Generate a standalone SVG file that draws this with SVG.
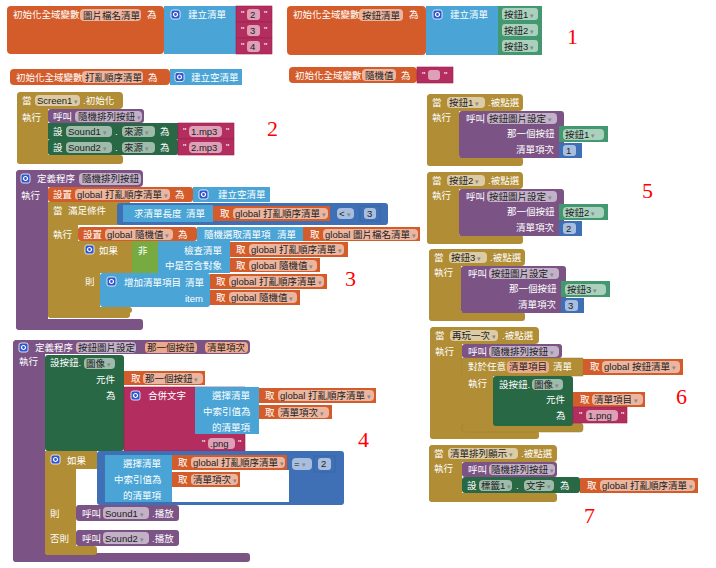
<svg xmlns="http://www.w3.org/2000/svg" xmlns:xlink="http://www.w3.org/1999/xlink" width="716" height="568" viewBox="0 0 716 568">
<style>
text{font-family:"Liberation Sans","Noto Sans CJK TC","Noto Sans CJK SC",sans-serif;font-size:9.5px}
.w{fill:#fff}
.k{fill:#222}
.a{fill:#888;font-size:7px}
.n{font-family:"Liberation Serif","DejaVu Serif",serif;font-size:22px;fill:#f00}
.o{fill:#D35C2A}
.lb{fill:#4AA5D6}
.mg{fill:#B32D5E;stroke:#9c2450;stroke-width:.6}
.gc{fill:#43986F}
.dg{fill:#286845}
.gd{fill:#B18D36}
.pp{fill:#7B5385}
.mb{fill:#3F6FB5}
.lg{fill:#77AB41}
.f{fill:#fff;fill-opacity:.55}
.fo{fill:#EBA98D}
</style>
<defs>
<g id="gear"><rect x="0" y="0" width="9" height="9" rx="2" fill="#2F55CF" stroke="#fff" stroke-width=".8"/><circle cx="4.5" cy="4.5" r="2" fill="none" stroke="#fff" stroke-width="1.2"/></g>
</defs>
<rect width="716" height="568" fill="#fff"/>

<g id="b1a">
<rect class="o" x="7" y="6" width="157" height="48" rx="4"/>
<text class="w" x="13" y="18">初始化全域變數</text>
<rect class="f" x="80" y="9" width="61" height="12" rx="4"/><text class="k" x="83" y="19">圖片檔名清單</text>
<text class="w" x="147" y="18">為</text>
<rect class="lb" x="164" y="6" width="72" height="48"/>
<use href="#gear" x="171" y="10"/>
<text class="w" x="188" y="18">建立清單</text>
<rect class="mg" x="236" y="6" width="36" height="16"/>
<rect class="mg" x="236" y="22" width="36" height="16"/>
<rect class="mg" x="236" y="38" width="36" height="16"/>
<text class="w" x="241" y="17">"</text><rect class="f" x="247" y="9" width="13" height="11" rx="3"/><text class="k" x="250" y="18">2</text><text class="w" x="264" y="17">"</text>
<text class="w" x="241" y="33">"</text><rect class="f" x="247" y="25" width="13" height="11" rx="3"/><text class="k" x="250" y="34">3</text><text class="w" x="264" y="33">"</text>
<text class="w" x="241" y="49">"</text><rect class="f" x="247" y="41" width="13" height="11" rx="3"/><text class="k" x="250" y="50">4</text><text class="w" x="264" y="49">"</text>
</g>

<g id="b1b">
<rect class="o" x="287" y="6" width="139" height="49" rx="4"/>
<text class="w" x="293" y="18">初始化全域變數</text>
<rect class="f" x="359" y="9" width="44" height="12" rx="4"/><text class="k" x="362" y="19">按鈕清單</text>
<text class="w" x="409" y="18">為</text>
<rect class="lb" x="426" y="6" width="72" height="49"/>
<use href="#gear" x="433" y="10"/>
<text class="w" x="450" y="18">建立清單</text>
<rect class="gc" x="498" y="6" width="44" height="16"/>
<rect class="gc" x="498" y="22" width="44" height="16"/>
<rect class="gc" x="498" y="38" width="44" height="17"/>
<rect class="f" x="502" y="8" width="36" height="12" rx="3"/><text class="k" x="504" y="18">按鈕1<tspan class="a"> ▾</tspan></text>
<rect class="f" x="502" y="24" width="36" height="12" rx="3"/><text class="k" x="504" y="34">按鈕2<tspan class="a"> ▾</tspan></text>
<rect class="f" x="502" y="40" width="36" height="12" rx="3"/><text class="k" x="504" y="50">按鈕3<tspan class="a"> ▾</tspan></text>
</g>

<g id="b1c">
<rect class="o" x="10" y="69" width="160" height="16" rx="4"/>
<text class="w" x="16" y="81">初始化全域變數</text>
<rect class="f" x="82" y="71" width="61" height="12" rx="4"/><text class="k" x="85" y="81">打亂順序清單</text>
<text class="w" x="148" y="81">為</text>
<rect class="lb" x="170" y="69" width="72" height="16"/>
<use href="#gear" x="175" y="72.5"/>
<text class="w" x="191" y="81">建立空清單</text>
</g>

<g id="b1d">
<rect class="o" x="289" y="67" width="128" height="16" rx="4"/>
<text class="w" x="295" y="79">初始化全域變數</text>
<rect class="f" x="362" y="69" width="34" height="12" rx="4"/><text class="k" x="365" y="79">隨機值</text>
<text class="w" x="401" y="79">為</text>
<rect class="mg" x="417" y="67" width="36" height="16"/>
<text class="w" x="422" y="78">"</text><rect class="f" x="428" y="70" width="12" height="10" rx="3"/><text class="w" x="444" y="78">"</text>
</g>

<g id="b2">
<rect class="gd" x="17" y="92" width="106" height="17" rx="4"/>
<rect class="gd" x="17" y="92" width="31" height="72" rx="4"/>
<rect class="gd" x="17" y="155" width="106" height="9" rx="3"/>
<text class="w" x="22" y="104">當</text>
<rect class="f" x="35" y="95" width="45" height="11" rx="4"/><text class="k" x="37" y="104">Screen1<tspan class="a"> ▾</tspan></text>
<text class="w" x="83" y="104">.初始化</text>
<text class="w" x="22" y="121">執行</text>
<rect class="pp" x="48" y="109" width="96" height="14" rx="3"/>
<text class="w" x="53" y="120">呼叫</text>
<rect class="f" x="75" y="111" width="67" height="11" rx="4"/><text class="k" x="78" y="120">隨機排列按鈕<tspan class="a"> ▾</tspan></text>
<rect class="dg" x="48" y="123" width="130" height="16"/>
<text class="w" x="53" y="135">設</text>
<rect class="f" x="66" y="126" width="46" height="11" rx="4"/><text class="k" x="68" y="135">Sound1<tspan class="a"> ▾</tspan></text>
<text class="w" x="115" y="135">.</text>
<rect class="f" x="122" y="126" width="33" height="11" rx="4"/><text class="k" x="124" y="135">來源<tspan class="a"> ▾</tspan></text>
<text class="w" x="160" y="135">為</text>
<rect class="mg" x="178" y="123" width="56" height="16"/>
<text class="w" x="183" y="134">"</text><rect class="f" x="189" y="126" width="33" height="11" rx="4"/><text class="k" x="191" y="135">1.mp3</text><text class="w" x="226" y="134">"</text>
<rect class="dg" x="48" y="139" width="130" height="16" rx="2"/>
<text class="w" x="53" y="151">設</text>
<rect class="f" x="66" y="142" width="46" height="11" rx="4"/><text class="k" x="68" y="151">Sound2<tspan class="a"> ▾</tspan></text>
<text class="w" x="115" y="151">.</text>
<rect class="f" x="122" y="142" width="33" height="11" rx="4"/><text class="k" x="124" y="151">來源<tspan class="a"> ▾</tspan></text>
<text class="w" x="160" y="151">為</text>
<rect class="mg" x="178" y="139" width="56" height="16"/>
<text class="w" x="183" y="150">"</text><rect class="f" x="189" y="142" width="33" height="11" rx="4"/><text class="k" x="191" y="151">2.mp3</text><text class="w" x="226" y="150">"</text>
</g>

<g id="b3">
<rect class="pp" x="16" y="170" width="127" height="17" rx="4"/>
<rect class="pp" x="16" y="170" width="32" height="160" rx="4"/>
<rect class="pp" x="16" y="319" width="127" height="11" rx="3"/>
<use href="#gear" x="21" y="174"/>
<text class="w" x="37" y="182">定義程序</text>
<rect class="f" x="79" y="173" width="62" height="12" rx="4"/><text class="k" x="82" y="182">隨機排列按鈕</text>
<text class="w" x="21" y="199">執行</text>
<rect class="o" x="48" y="187" width="145" height="15" rx="3"/>
<text class="w" x="53" y="198">設置</text>
<rect class="f" x="75" y="189" width="95" height="11" rx="4"/><text class="k" x="77" y="198">global 打亂順序清單<tspan class="a"> ▾</tspan></text>
<text class="w" x="175" y="198">為</text>
<rect class="lb" x="193" y="187" width="77" height="15"/>
<use href="#gear" x="199" y="190"/>
<text class="w" x="218" y="198">建立空清單</text>

<rect class="gd" x="48" y="202" width="82" height="23"/>
<rect class="gd" x="48" y="202" width="30" height="116" rx="3"/>
<rect class="gd" x="48" y="311" width="82" height="7" rx="3"/>
<text class="w" x="53" y="214">當</text><text class="w" x="68" y="214">滿足條件</text>
<text class="w" x="53" y="238">執行</text>
<rect class="mb" x="117" y="203" width="271" height="22" rx="3"/>
<rect class="lb" x="123" y="205" width="90" height="17"/>
<text class="w" x="134" y="217">求清單長度</text><text class="w" x="186" y="217">清單</text>
<rect class="o" x="213" y="206" width="117" height="15"/>
<text class="w" x="220" y="217">取</text>
<rect class="f" x="233" y="208" width="95" height="11" rx="4"/><text class="k" x="235" y="217">global 打亂順序清單<tspan class="a"> ▾</tspan></text>
<rect class="f" x="337" y="208" width="17" height="11" rx="4"/><text class="k" x="339" y="217">&lt;<tspan class="a"> ▾</tspan></text>
<rect class="mb" x="360" y="206" width="20" height="15" stroke="#35609e" stroke-width=".6"/>
<rect class="f" x="364" y="208" width="12" height="11" rx="3"/><text class="k" x="367" y="217">3</text>

<rect class="o" x="78" y="227" width="119" height="14" rx="3"/>
<text class="w" x="83" y="238">設置</text>
<rect class="f" x="105" y="229" width="68" height="11" rx="4"/><text class="k" x="107" y="238">global 隨機值<tspan class="a"> ▾</tspan></text>
<text class="w" x="178" y="238">為</text>
<rect class="lb" x="197" y="227" width="106" height="14"/>
<text class="w" x="204" y="238">隨機選取清單項</text><text class="w" x="277" y="238">清單</text>
<rect class="o" x="303" y="227" width="117" height="14"/>
<text class="w" x="310" y="238">取</text>
<rect class="f" x="323" y="229" width="95" height="11" rx="4"/><text class="k" x="325" y="238">global 圖片檔名清單<tspan class="a"> ▾</tspan></text>

<rect class="gd" x="78" y="241" width="54" height="32"/>
<rect class="gd" x="78" y="241" width="22" height="72" rx="3"/>
<rect class="gd" x="78" y="307" width="54" height="6" rx="3"/>
<use href="#gear" x="85" y="245"/>
<text class="w" x="99" y="254">如果</text>
<rect class="lg" x="132" y="241" width="26" height="32"/>
<text class="w" x="138" y="254">非</text>
<rect class="lb" x="158" y="241" width="72" height="32"/>
<text class="w" x="184" y="254">檢查清單</text>
<text class="w" x="165" y="269">中是否含對象</text>
<rect class="o" x="230" y="242" width="118" height="15"/>
<text class="w" x="236" y="253">取</text>
<rect class="f" x="249" y="244" width="95" height="11" rx="4"/><text class="k" x="251" y="253">global 打亂順序清單<tspan class="a"> ▾</tspan></text>
<rect class="o" x="230" y="258" width="90" height="14"/>
<text class="w" x="236" y="269">取</text>
<rect class="f" x="249" y="260" width="68" height="11" rx="4"/><text class="k" x="251" y="269">global 隨機值<tspan class="a"> ▾</tspan></text>
<text class="w" x="85" y="285">則</text>
<rect class="lb" x="100" y="273" width="110" height="34" rx="3"/>
<use href="#gear" x="107" y="277"/>
<text class="w" x="124" y="286">增加清單項目</text><text class="w" x="185" y="286">清單</text>
<text class="w" x="185" y="302">item</text>
<rect class="o" x="210" y="274" width="117" height="15"/>
<text class="w" x="216" y="285">取</text>
<rect class="f" x="229" y="276" width="95" height="11" rx="4"/><text class="k" x="231" y="285">global 打亂順序清單<tspan class="a"> ▾</tspan></text>
<rect class="o" x="210" y="290" width="90" height="15"/>
<text class="w" x="216" y="301">取</text>
<rect class="f" x="229" y="292" width="68" height="11" rx="4"/><text class="k" x="231" y="301">global 隨機值<tspan class="a"> ▾</tspan></text>
</g>

<g id="b4">
<rect class="pp" x="13" y="340" width="237" height="14" rx="4"/>
<rect class="pp" x="13" y="340" width="32" height="222" rx="4"/>
<rect class="pp" x="13" y="553" width="237" height="9" rx="3"/>
<use href="#gear" x="19" y="343"/>
<text class="w" x="35" y="351">定義程序</text>
<rect class="f" x="76" y="342" width="60" height="11" rx="4"/><text class="k" x="78" y="351">按鈕圖片設定</text>
<rect class="fo" x="145" y="342" width="52" height="11" rx="4"/><text class="k" x="147" y="351">那一個按鈕</text>
<rect class="fo" x="205" y="342" width="43" height="11" rx="4"/><text class="k" x="207" y="351">清單項次</text>
<text class="w" x="19" y="365">執行</text>
<rect class="dg" x="45" y="355" width="79" height="96" rx="3"/>
<text class="w" x="50" y="366">設按鈕.</text>
<rect class="f" x="84" y="358" width="31" height="11" rx="4"/><text class="k" x="86" y="367">圖像<tspan class="a"> ▾</tspan></text>
<text class="w" x="96" y="383">元件</text>
<text class="w" x="106" y="399">為</text>
<rect class="o" x="124" y="371" width="81" height="14"/>
<text class="w" x="131" y="382">取</text>
<rect class="f" x="143" y="373" width="60" height="11" rx="4"/><text class="k" x="145" y="382">那一個按鈕<tspan class="a"> ▾</tspan></text>
<rect class="mg" x="124" y="387" width="121" height="64"/>
<use href="#gear" x="131" y="391"/>
<text class="w" x="148" y="399">合併文字</text>
<rect class="lb" x="195" y="387" width="64" height="47"/>
<text class="w" x="212" y="399">選擇清單</text>
<text class="w" x="203" y="415">中索引值為</text>
<text class="w" x="212" y="431">的清單項</text>
<rect class="o" x="259" y="388" width="117" height="15"/>
<text class="w" x="265" y="399">取</text>
<rect class="f" x="278" y="390" width="96" height="11" rx="4"/><text class="k" x="280" y="399">global 打亂順序清單<tspan class="a"> ▾</tspan></text>
<rect class="o" x="259" y="405" width="73" height="14"/>
<text class="w" x="265" y="416">取</text>
<rect class="f" x="278" y="407" width="51" height="11" rx="4"/><text class="k" x="280" y="416">清單項次<tspan class="a"> ▾</tspan></text>
<text class="w" x="202" y="446">"</text>
<rect class="f" x="208" y="438" width="27" height="11" rx="4"/><text class="k" x="210" y="447">.png</text>
<text class="w" x="238" y="446">"</text>

<rect class="gd" x="45" y="451" width="52" height="18"/>
<rect class="gd" x="45" y="451" width="31" height="104" rx="3"/>
<rect class="gd" x="45" y="546" width="52" height="9" rx="3"/>
<use href="#gear" x="51" y="455"/>
<text class="w" x="67" y="464">如果</text>
<rect class="mb" x="97" y="451" width="247" height="54" rx="3"/>
<rect x="172" y="470" width="117" height="32" fill="#fff"/>
<rect class="lb" x="105" y="455" width="67" height="47"/>
<text class="w" x="123" y="467">選擇清單</text>
<text class="w" x="114" y="483">中索引值為</text>
<text class="w" x="123" y="499">的清單項</text>
<rect class="o" x="172" y="455" width="115" height="15"/>
<text class="w" x="178" y="466">取</text>
<rect class="f" x="191" y="457" width="94" height="11" rx="4"/><text class="k" x="193" y="466">global 打亂順序清單<tspan class="a"> ▾</tspan></text>
<rect class="o" x="172" y="472" width="68" height="15"/>
<text class="w" x="178" y="483">取</text>
<rect class="f" x="191" y="474" width="47" height="11" rx="4"/><text class="k" x="193" y="483">清單項次<tspan class="a"> ▾</tspan></text>
<rect class="f" x="292" y="458" width="20" height="12" rx="4"/><text class="k" x="294" y="467">=<tspan class="a"> ▾</tspan></text>
<rect class="mb" x="314" y="456" width="21" height="16" stroke="#35609e" stroke-width=".6"/>
<rect class="f" x="318" y="458" width="13" height="12" rx="3"/><text class="k" x="321" y="467">2</text>
<text class="w" x="50" y="517">則</text>
<rect class="pp" x="76" y="505" width="103" height="16" rx="3"/>
<text class="w" x="82" y="517">呼叫</text>
<rect class="f" x="103" y="507" width="46" height="12" rx="4"/><text class="k" x="105" y="517">Sound1<tspan class="a"> ▾</tspan></text>
<text class="w" x="152" y="517">.播放</text>
<text class="w" x="50" y="542">否則</text>
<rect class="pp" x="76" y="530" width="103" height="16" rx="3"/>
<text class="w" x="82" y="542">呼叫</text>
<rect class="f" x="103" y="532" width="46" height="12" rx="4"/><text class="k" x="105" y="542">Sound2<tspan class="a"> ▾</tspan></text>
<text class="w" x="152" y="542">.播放</text>
</g>

<g id="b5a">
<rect class="gd" x="427" y="94" width="96" height="17" rx="4"/>
<rect class="gd" x="427" y="94" width="32" height="72" rx="4"/>
<rect class="gd" x="427" y="157" width="96" height="9" rx="3"/>
<text class="w" x="432" y="106">當</text>
<rect class="f" x="447" y="97" width="38" height="11" rx="4"/><text class="k" x="449" y="106">按鈕1<tspan class="a"> ▾</tspan></text>
<text class="w" x="488" y="106">.被點選</text>
<text class="w" x="432" y="121">執行</text>
<rect class="pp" x="459" y="111" width="105" height="47" rx="3"/>
<text class="w" x="466" y="122">呼叫</text>
<rect class="f" x="487" y="113" width="70" height="11" rx="4"/><text class="k" x="489" y="122">按鈕圖片設定<tspan class="a"> ▾</tspan></text>
<text class="w" x="507" y="137">那一個按鈕</text>
<text class="w" x="516" y="153">清單項次</text>
<rect class="gc" x="559" y="126" width="49" height="16"/>
<rect class="f" x="563" y="129" width="41" height="11" rx="4"/><text class="k" x="565" y="138">按鈕1<tspan class="a"> ▾</tspan></text>
<rect class="mb" x="559" y="143" width="23" height="15"/>
<rect class="f" x="563" y="145" width="13" height="11" rx="3"/><text class="k" x="566" y="154">1</text>
</g>

<g id="b5b">
<rect class="gd" x="427" y="172" width="96" height="17" rx="4"/>
<rect class="gd" x="427" y="172" width="32" height="72" rx="4"/>
<rect class="gd" x="427" y="235" width="96" height="9" rx="3"/>
<text class="w" x="432" y="184">當</text>
<rect class="f" x="447" y="175" width="38" height="11" rx="4"/><text class="k" x="449" y="184">按鈕2<tspan class="a"> ▾</tspan></text>
<text class="w" x="488" y="184">.被點選</text>
<text class="w" x="432" y="199">執行</text>
<rect class="pp" x="459" y="189" width="105" height="47" rx="3"/>
<text class="w" x="466" y="200">呼叫</text>
<rect class="f" x="487" y="191" width="70" height="11" rx="4"/><text class="k" x="489" y="200">按鈕圖片設定<tspan class="a"> ▾</tspan></text>
<text class="w" x="507" y="215">那一個按鈕</text>
<text class="w" x="516" y="231">清單項次</text>
<rect class="gc" x="559" y="204" width="49" height="16"/>
<rect class="f" x="563" y="207" width="41" height="11" rx="4"/><text class="k" x="565" y="216">按鈕2<tspan class="a"> ▾</tspan></text>
<rect class="mb" x="559" y="221" width="23" height="15"/>
<rect class="f" x="563" y="223" width="13" height="11" rx="3"/><text class="k" x="566" y="232">2</text>
</g>

<g id="b5c">
<rect class="gd" x="429" y="249" width="96" height="17" rx="4"/>
<rect class="gd" x="429" y="249" width="32" height="72" rx="4"/>
<rect class="gd" x="429" y="312" width="96" height="9" rx="3"/>
<text class="w" x="434" y="261">當</text>
<rect class="f" x="449" y="252" width="38" height="11" rx="4"/><text class="k" x="451" y="261">按鈕3<tspan class="a"> ▾</tspan></text>
<text class="w" x="490" y="261">.被點選</text>
<text class="w" x="434" y="276">執行</text>
<rect class="pp" x="461" y="266" width="105" height="47" rx="3"/>
<text class="w" x="468" y="277">呼叫</text>
<rect class="f" x="489" y="268" width="70" height="11" rx="4"/><text class="k" x="491" y="277">按鈕圖片設定<tspan class="a"> ▾</tspan></text>
<text class="w" x="509" y="292">那一個按鈕</text>
<text class="w" x="518" y="308">清單項次</text>
<rect class="gc" x="561" y="281" width="49" height="16"/>
<rect class="f" x="565" y="284" width="41" height="11" rx="4"/><text class="k" x="567" y="293">按鈕3<tspan class="a"> ▾</tspan></text>
<rect class="mb" x="561" y="298" width="23" height="15"/>
<rect class="f" x="565" y="300" width="13" height="11" rx="3"/><text class="k" x="568" y="309">3</text>
</g>

<g id="b6">
<rect class="gd" x="430" y="327" width="109" height="17" rx="4"/>
<rect class="gd" x="430" y="327" width="32" height="112" rx="4"/>
<rect class="gd" x="430" y="431" width="109" height="8" rx="3"/>
<text class="w" x="435" y="339">當</text>
<rect class="f" x="450" y="330" width="48" height="11" rx="4"/><text class="k" x="452" y="339">再玩一次<tspan class="a"> ▾</tspan></text>
<text class="w" x="502" y="339">.被點選</text>
<text class="w" x="435" y="355">執行</text>
<rect class="pp" x="462" y="344" width="100" height="14" rx="3"/>
<text class="w" x="468" y="355">呼叫</text>
<rect class="f" x="489" y="346" width="70" height="11" rx="4"/><text class="k" x="491" y="355">隨機排列按鈕<tspan class="a"> ▾</tspan></text>
<rect class="gd" x="462" y="358" width="121" height="18" stroke="#9c7c2c" stroke-width=".5"/>
<rect class="gd" x="462" y="358" width="31" height="74"/>
<rect class="gd" x="462" y="423" width="121" height="9" rx="3" stroke="#9c7c2c" stroke-width=".5"/>
<rect class="gd" x="462.5" y="375" width="30" height="49"/>
<text class="w" x="468" y="370">對於任意</text>
<rect class="fo" x="507" y="361" width="42" height="12" rx="4"/><text class="k" x="509" y="370">清單項目</text>
<text class="w" x="553" y="370">清單</text>
<rect class="o" x="583" y="359" width="100" height="16"/>
<text class="w" x="590" y="370">取</text>
<rect class="f" x="602" y="361" width="78" height="12" rx="4"/><text class="k" x="604" y="370">global 按鈕清單<tspan class="a"> ▾</tspan></text>
<text class="w" x="468" y="387">執行</text>
<rect class="dg" x="493" y="376" width="80" height="50" rx="3"/>
<text class="w" x="499" y="388">設按鈕.</text>
<rect class="f" x="532" y="379" width="31" height="11" rx="4"/><text class="k" x="534" y="388">圖像<tspan class="a"> ▾</tspan></text>
<text class="w" x="546" y="403">元件</text>
<text class="w" x="556" y="419">為</text>
<rect class="o" x="573" y="392" width="72" height="15"/>
<text class="w" x="580" y="403">取</text>
<rect class="f" x="592" y="394" width="51" height="11" rx="4"/><text class="k" x="594" y="403">清單項目<tspan class="a"> ▾</tspan></text>
<rect class="mg" x="573" y="407" width="54" height="16"/>
<text class="w" x="579" y="418">"</text>
<rect class="f" x="586" y="410" width="32" height="11" rx="4"/><text class="k" x="588" y="419">1.png</text>
<text class="w" x="621" y="418">"</text>
</g>

<g id="b7">
<rect class="gd" x="429" y="445" width="128" height="17" rx="4"/>
<rect class="gd" x="429" y="445" width="33" height="57" rx="4"/>
<rect class="gd" x="429" y="493" width="128" height="9" rx="3"/>
<text class="w" x="434" y="457">當</text>
<rect class="f" x="448" y="448" width="70" height="11" rx="4"/><text class="k" x="450" y="457">清單排列顯示<tspan class="a"> ▾</tspan></text>
<text class="w" x="521" y="457">.被點選</text>
<text class="w" x="434" y="472">執行</text>
<rect class="pp" x="462" y="462" width="95" height="15" rx="3"/>
<text class="w" x="468" y="473">呼叫</text>
<rect class="f" x="489" y="464" width="66" height="11" rx="4"/><text class="k" x="491" y="473">隨機排列按鈕<tspan class="a"> ▾</tspan></text>
<rect class="dg" x="462" y="477" width="118" height="16" rx="3"/>
<text class="w" x="467" y="489">設</text>
<rect class="f" x="479" y="480" width="33" height="11" rx="4"/><text class="k" x="481" y="489">標籤1<tspan class="a"> ▾</tspan></text>
<text class="w" x="516" y="489">.</text>
<rect class="f" x="524" y="480" width="30" height="11" rx="4"/><text class="k" x="526" y="489">文字<tspan class="a"> ▾</tspan></text>
<text class="w" x="560" y="489">為</text>
<rect class="o" x="580" y="478" width="118" height="15"/>
<text class="w" x="587" y="489">取</text>
<rect class="f" x="600" y="480" width="95" height="11" rx="4"/><text class="k" x="602" y="489">global 打亂順序清單<tspan class="a"> ▾</tspan></text>
</g>

<g id="labels">
<text class="n" x="567" y="44">1</text>
<text class="n" x="267" y="136">2</text>
<text class="n" x="345" y="286">3</text>
<text class="n" x="358" y="447">4</text>
<text class="n" x="642" y="198">5</text>
<text class="n" x="676" y="404">6</text>
<text class="n" x="584" y="523">7</text>
</g>
</svg>
